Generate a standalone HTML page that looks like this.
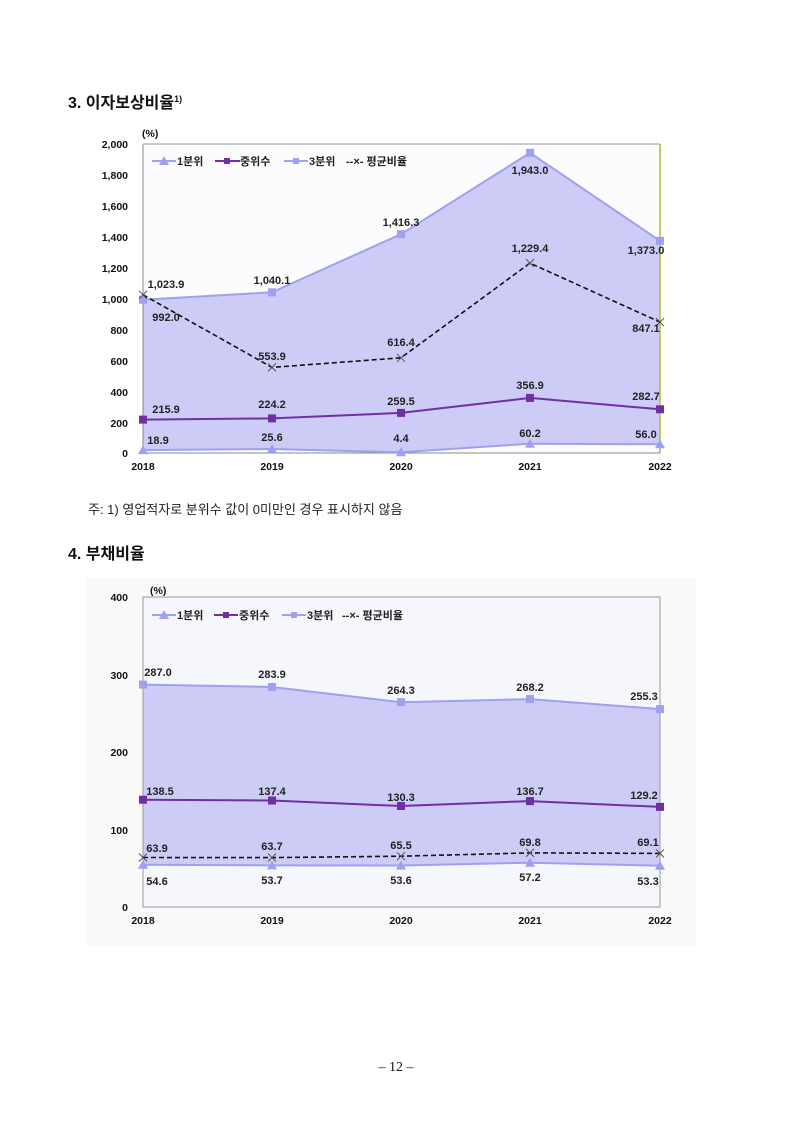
<!DOCTYPE html>
<html><head><meta charset="utf-8"><style>
body{margin:0;background:#fff;}
svg{display:block;font-family:"Liberation Sans","Noto Sans CJK KR",sans-serif;}
.t{font-size:11px;font-weight:bold;fill:#222;}
.tk{font-size:10.5px;font-weight:bold;fill:#111;}
</style></head><body>
<svg width="793" height="1121" viewBox="0 0 793 1121">
<defs>
<path id="tri" d="M0,-5 L5,4 L-5,4 Z" fill="#a0a0f0"/>
<path id="x" d="M-4,-4 L4,4 M-4,4 L4,-4" stroke="#555" stroke-width="1"/>
</defs>
<text x="68" y="108" font-size="16" font-weight="bold" fill="#111">3. 이자보상비율<tspan font-size="9" dy="-6">1)</tspan></text>
<!-- chart 1 -->
<rect x="143" y="144" width="517" height="309" fill="#fcfcff"/>
<polygon points="143,299.7 272,292.3 401,234.2 530,152.8 660,240.9 660,444.3 530,443.7 401,452.3 272,449 143,450.1" fill="#ccccf7"/>
<line x1="143" y1="144" x2="660" y2="144" stroke="#999" stroke-width="1"/>
<line x1="660" y1="144" x2="660" y2="453" stroke="#b8b830" stroke-width="1.5"/>
<line x1="143" y1="144" x2="143" y2="453" stroke="#888"/>
<line x1="143" y1="453" x2="660" y2="453" stroke="#888"/>
<g class="tk" text-anchor="end">
<text x="128" y="148">2,000</text><text x="128" y="179">1,800</text><text x="128" y="210">1,600</text><text x="128" y="241">1,400</text><text x="128" y="272">1,200</text><text x="128" y="303">1,000</text><text x="128" y="334">800</text><text x="128" y="365">600</text><text x="128" y="396">400</text><text x="128" y="427">200</text><text x="128" y="457">0</text>
</g>
<text x="142" y="137" class="tk">(%)</text>
<g class="tk" text-anchor="middle"><text x="143" y="470">2018</text><text x="272" y="470">2019</text><text x="401" y="470">2020</text><text x="530" y="470">2021</text><text x="660" y="470">2022</text></g>
<polyline points="143,299.7 272,292.3 401,234.2 530,152.8 660,240.9" fill="none" stroke="#a0a0f0" stroke-width="2"/>
<g fill="#a0a0f0"><rect x="139" y="295.7" width="8" height="8"/><rect x="268" y="288.3" width="8" height="8"/><rect x="397" y="230.2" width="8" height="8"/><rect x="526" y="148.8" width="8" height="8"/><rect x="656" y="236.9" width="8" height="8"/></g>
<polyline points="143,294.8 272,367.4 401,357.8 530,263.1 660,322.1" fill="none" stroke="#111" stroke-width="1.6" stroke-dasharray="5,3"/>
<use href="#x" x="143" y="294.8"/><use href="#x" x="272" y="367.4"/><use href="#x" x="401" y="357.8"/><use href="#x" x="530" y="263.1"/><use href="#x" x="660" y="322.1"/>
<polyline points="143,419.6 272,418.4 401,412.9 530,397.9 660,409.3" fill="none" stroke="#7030a0" stroke-width="2"/>
<g fill="#7030a0"><rect x="139" y="415.6" width="8" height="8"/><rect x="268" y="414.4" width="8" height="8"/><rect x="397" y="408.9" width="8" height="8"/><rect x="526" y="393.9" width="8" height="8"/><rect x="656" y="405.3" width="8" height="8"/></g>
<polyline points="143,450.1 272,449 401,452.3 530,443.7 660,444.3" fill="none" stroke="#a0a0f0" stroke-width="2"/>
<use href="#tri" x="143" y="450.1"/><use href="#tri" x="272" y="449"/><use href="#tri" x="401" y="452.3"/><use href="#tri" x="530" y="443.7"/><use href="#tri" x="660" y="444.3"/>
<g class="t" text-anchor="middle">
<text x="166" y="288">1,023.9</text><text x="166" y="321">992.0</text><text x="272" y="284">1,040.1</text><text x="401" y="226">1,416.3</text><text x="530" y="174">1,943.0</text><text x="646" y="254">1,373.0</text>
<text x="272" y="360">553.9</text><text x="401" y="346">616.4</text><text x="530" y="252">1,229.4</text><text x="646" y="332">847.1</text>
<text x="166" y="413">215.9</text><text x="272" y="408">224.2</text><text x="401" y="405">259.5</text><text x="530" y="389">356.9</text><text x="646" y="400">282.7</text>
<text x="158" y="444">18.9</text><text x="272" y="441">25.6</text><text x="401" y="442">4.4</text><text x="530" y="437">60.2</text><text x="646" y="438">56.0</text>
</g>
<g class="t"><line x1="152" y1="161" x2="176" y2="161" stroke="#a0a0f0" stroke-width="2"/><use href="#tri" x="164" y="161" transform="scale(1)"/><text x="177" y="165">1분위</text>
<line x1="215" y1="161" x2="240" y2="161" stroke="#7030a0" stroke-width="2"/><rect x="224" y="158" width="6" height="6" fill="#7030a0"/><text x="240" y="165">중위수</text>
<line x1="284" y1="161" x2="308" y2="161" stroke="#a0a0f0" stroke-width="2"/><rect x="293" y="158" width="6" height="6" fill="#a0a0f0"/><text x="309" y="165">3분위</text>
<text x="346" y="165">--×- 평균비율</text></g>
<text x="88" y="514" font-size="13" fill="#222">주: 1) 영업적자로 분위수 값이 0미만인 경우 표시하지 않음</text>
<text x="68" y="559" font-size="16" font-weight="bold" fill="#111">4. 부채비율</text>
<!-- chart 2 -->
<rect x="86" y="578" width="610" height="367" fill="#f9f9fa"/>
<rect x="143" y="597" width="517" height="310" fill="#f6f6fd"/>
<polygon points="143,684.6 272,687 401,702.2 530,699.1 660,709.1 660,865.7 530,862.7 401,865.5 272,865.4 143,864.7" fill="#ccccf7"/>
<rect x="143" y="597" width="517" height="310" fill="none" stroke="#999"/>
<g class="tk" text-anchor="end"><text x="128" y="601">400</text><text x="128" y="679">300</text><text x="128" y="756">200</text><text x="128" y="834">100</text><text x="128" y="911">0</text></g>
<text x="150" y="594" class="tk">(%)</text>
<g class="tk" text-anchor="middle"><text x="143" y="924">2018</text><text x="272" y="924">2019</text><text x="401" y="924">2020</text><text x="530" y="924">2021</text><text x="660" y="924">2022</text></g>
<polyline points="143,684.6 272,687 401,702.2 530,699.1 660,709.1" fill="none" stroke="#a0a0f0" stroke-width="2"/>
<g fill="#a0a0f0"><rect x="139" y="680.6" width="8" height="8"/><rect x="268" y="683" width="8" height="8"/><rect x="397" y="698.2" width="8" height="8"/><rect x="526" y="695.1" width="8" height="8"/><rect x="656" y="705.1" width="8" height="8"/></g>
<polyline points="143,799.7 272,800.5 401,806 530,801.1 660,806.9" fill="none" stroke="#7030a0" stroke-width="2"/>
<g fill="#7030a0"><rect x="139" y="795.7" width="8" height="8"/><rect x="268" y="796.5" width="8" height="8"/><rect x="397" y="802" width="8" height="8"/><rect x="526" y="797.1" width="8" height="8"/><rect x="656" y="802.9" width="8" height="8"/></g>
<polyline points="143,857.5 272,857.6 401,856.2 530,852.9 660,853.4" fill="none" stroke="#111" stroke-width="1.6" stroke-dasharray="5,3"/>
<use href="#x" x="143" y="857.5"/><use href="#x" x="272" y="857.6"/><use href="#x" x="401" y="856.2"/><use href="#x" x="530" y="852.9"/><use href="#x" x="660" y="853.4"/>
<polyline points="143,864.7 272,865.4 401,865.5 530,862.7 660,865.7" fill="none" stroke="#a0a0f0" stroke-width="2"/>
<use href="#tri" x="143" y="864.7"/><use href="#tri" x="272" y="865.4"/><use href="#tri" x="401" y="865.5"/><use href="#tri" x="530" y="862.7"/><use href="#tri" x="660" y="865.7"/>
<g class="t" text-anchor="middle">
<text x="158" y="676">287.0</text><text x="272" y="678">283.9</text><text x="401" y="694">264.3</text><text x="530" y="691">268.2</text><text x="644" y="700">255.3</text>
<text x="160" y="795">138.5</text><text x="272" y="795">137.4</text><text x="401" y="801">130.3</text><text x="530" y="795">136.7</text><text x="644" y="799">129.2</text>
<text x="157" y="852">63.9</text><text x="272" y="850">63.7</text><text x="401" y="849">65.5</text><text x="530" y="846">69.8</text><text x="648" y="846">69.1</text>
<text x="157" y="885">54.6</text><text x="272" y="884">53.7</text><text x="401" y="884">53.6</text><text x="530" y="881">57.2</text><text x="648" y="885">53.3</text>
</g>
<g class="t"><line x1="152" y1="615" x2="176" y2="615" stroke="#a0a0f0" stroke-width="2"/><use href="#tri" x="164" y="615"/><text x="177" y="619">1분위</text>
<line x1="214" y1="615" x2="238" y2="615" stroke="#7030a0" stroke-width="2"/><rect x="223" y="612" width="6" height="6" fill="#7030a0"/><text x="239" y="619">중위수</text>
<line x1="282" y1="615" x2="306" y2="615" stroke="#a0a0f0" stroke-width="2"/><rect x="291" y="612" width="6" height="6" fill="#a0a0f0"/><text x="307" y="619">3분위</text>
<text x="342" y="619">--×- 평균비율</text></g>
<text x="396" y="1071" font-size="14" text-anchor="middle" font-family="Liberation Serif,serif" fill="#111">– 12 –</text>
</svg>
</body></html>
